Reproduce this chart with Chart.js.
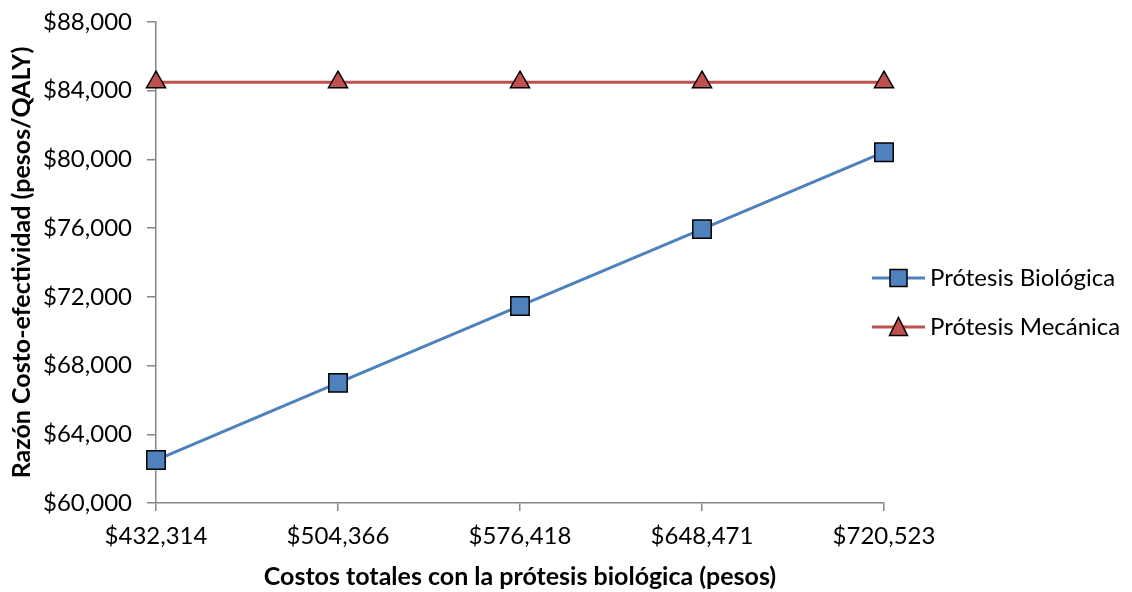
<!DOCTYPE html>
<html>
<head>
<meta charset="utf-8">
<script src="https://cdn.jsdelivr.net/npm/chart.js@4/dist/chart.umd.min.js"></script>
<style>
  html, body { margin: 0; padding: 0; background: #ffffff; }
  #wrap { width: 1132px; height: 592px; }
</style>
</head>
<body>
<div id="wrap"><canvas id="c" width="1132" height="592"></canvas></div>
<script>
// Total cost with the biological valve (x categories)
const costLabels = ['$432,314', '$504,366', '$576,418', '$648,471', '$720,523'];
// Cost-effectiveness ratio (pesos/QALY) for each option
const biologica = [62500, 66990, 71470, 75940, 80420];
const mecanica = [84500, 84500, 84500, 84500, 84500];
// Y axis range
const yMin = 60000;
const yMax = 88000;
const yStep = 4000;

const seriesNames = ['Prótesis Biológica', 'Prótesis Mecánica'];

const BLUE = '#4F81BD';
const RED = '#C0504D';
const AXIS = '#868686';
const FONT = 'Lato, "Open Sans", sans-serif';

const money = v => '$' + Number(v).toLocaleString('en-US');

// Legend drawn to the right of the plot, Excel style: line + marker + label
const sideLegend = {
  id: 'sideLegend',
  afterDraw(chart) {
    const ctx = chart.ctx;
    const x0 = 872, x1 = 925, tx = 930;
    const rows = [278, 327];
    ctx.save();
    chart.data.datasets.forEach((ds, i) => {
      const y = rows[i];
      ctx.strokeStyle = ds.borderColor;
      ctx.lineWidth = 3;
      ctx.beginPath();
      ctx.moveTo(x0, y);
      ctx.lineTo(x1, y);
      ctx.stroke();
      const cx = (x0 + x1) / 2;
      ctx.fillStyle = ds.pointBackgroundColor;
      ctx.strokeStyle = '#000000';
      ctx.lineWidth = 1.5;
      ctx.beginPath();
      if (ds.pointStyle === 'rect') {
        ctx.rect(cx - 8.5, y - 8.5, 17, 17);
      } else {
        ctx.moveTo(cx, y - 9.5);
        ctx.lineTo(cx + 9, y + 8.5);
        ctx.lineTo(cx - 9, y + 8.5);
        ctx.closePath();
      }
      ctx.fill();
      ctx.stroke();
      ctx.fillStyle = '#000000';
      ctx.font = '24px ' + FONT;
      ctx.textAlign = 'left';
      ctx.textBaseline = 'middle';
      ctx.fillText(ds.label, tx, y);
    });
    ctx.restore();
  }
};

new Chart(document.getElementById('c'), {
  type: 'line',
  data: {
    labels: costLabels,
    datasets: [
      {
        label: seriesNames[0],
        data: biologica,
        borderColor: BLUE,
        borderWidth: 3,
        pointStyle: 'rect',
        pointRadius: 13,
        pointHoverRadius: 13,
        pointBackgroundColor: BLUE,
        pointBorderColor: '#000000',
        pointBorderWidth: 1.5,
        tension: 0,
        clip: false
      },
      {
        label: seriesNames[1],
        data: mecanica,
        borderColor: RED,
        borderWidth: 3,
        pointStyle: 'triangle',
        pointRadius: 11,
        pointHoverRadius: 11,
        pointBackgroundColor: RED,
        pointBorderColor: '#000000',
        pointBorderWidth: 1.5,
        tension: 0,
        clip: false
      }
    ]
  },
  options: {
    responsive: false,
    animation: false,
    events: [],
    layout: { padding: { top: 22, right: 248, left: 0, bottom: 0 } },
    plugins: {
      legend: { display: false },
      tooltip: { enabled: false }
    },
    scales: {
      x: {
        type: 'category',
        offset: false,
        grid: { drawOnChartArea: false, drawTicks: true, tickLength: 8, color: AXIS, lineWidth: 1.5 },
        border: { color: AXIS, width: 1.5 },
        ticks: {
          color: '#000000',
          font: { family: FONT, size: 24 },
          padding: 11,
          maxRotation: 0,
          autoSkip: false
        },
        title: {
          display: true,
          text: 'Costos totales con la prótesis biológica (pesos)',
          color: '#000000',
          font: { family: FONT, size: 25, weight: 'bold' },
          padding: { top: 0, bottom: 0 }
        },
        afterFit(scale) { scale.height = 89; scale.paddingLeft = 0; scale.paddingRight = 0; }
      },
      y: {
        min: yMin,
        max: yMax,
        grid: { drawOnChartArea: false, drawTicks: true, tickLength: 9, color: AXIS, lineWidth: 1.5 },
        border: { color: AXIS, width: 1.5 },
        ticks: {
          stepSize: yStep,
          color: '#000000',
          font: { family: FONT, size: 24 },
          padding: 15,
          callback: v => money(v)
        },
        title: {
          display: true,
          text: 'Razón Costo-efectividad (pesos/QALY)',
          color: '#000000',
          font: { family: FONT, size: 25, weight: 'bold' },
          padding: { top: 7, bottom: 0 }
        },
        afterFit(scale) { scale.width = 156; scale.paddingTop = 0; scale.paddingBottom = 0; }
      }
    }
  },
  plugins: [sideLegend]
});
</script>
</body>
</html>
